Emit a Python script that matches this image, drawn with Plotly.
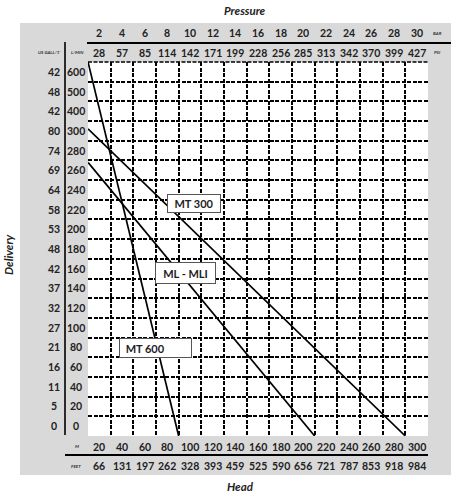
import numpy as np
import plotly.graph_objects as go

# ---- data ----
head_m = [20, 40, 60, 80, 100, 120, 140, 160, 180, 200, 220, 240, 260, 280, 300]
head_ft = [66, 131, 197, 262, 328, 393, 459, 525, 590, 656, 721, 787, 853, 918, 984]
pressure_bar = [2, 4, 6, 8, 10, 12, 14, 16, 18, 20, 22, 24, 26, 28, 30]
pressure_psi = [28, 57, 85, 114, 142, 171, 199, 228, 256, 285, 313, 342, 370, 399, 427]
flow_lpm = [0, 20, 40, 60, 80, 100, 120, 140, 160, 180, 200, 220, 240, 260, 280, 300, 400, 500, 600]
flow_usg = [0, 5, 11, 16, 21, 27, 32, 37, 42, 48, 53, 58, 64, 69, 74, 80, 42, 48, 42]

curve_names = ["MT 600", "ML - MLI", "MT 300"]
curve_head = [[10, 90], [10, 210], [10, 290]]
curve_flow = [[650, -10], [268, -10], [310, -10]]

# flow axis is a row scale (labels centred in rows)
row_vals = [-10] + flow_lpm + [650]
row_pos = [0] + [i + 0.5 for i in range(len(flow_lpm))] + [len(flow_lpm)]


def frow(v):
    return np.interp(v, row_vals, row_pos)


FONT = "Lato"
W, H = 472, 500
L, R, T, B = 88, 428, 62, 436
pw, ph = R - L, B - T


def px(x):
    return (x - L) / pw


def py(y):
    return (B - y) / ph


fig = go.Figure()
for name, hx, fy in zip(curve_names, curve_head, curve_flow):
    fig.add_trace(go.Scatter(x=hx, y=frow(np.array(fy)), mode="lines", name=name,
                             line=dict(color="black", width=1.7), showlegend=False,
                             hoverinfo="skip"))

grid_x = [(a + b) / 2 for a, b in zip(head_m[:-1], head_m[1:])]
grid_y = list(range(1, len(flow_lpm)))

shapes = []
# grey panel + white plot area
shapes.append(dict(type="rect", xref="paper", yref="paper", x0=px(20), x1=px(451),
                   y0=py(475), y1=py(23), fillcolor="#d9d9d9", line=dict(width=0), layer="below"))
shapes.append(dict(type="rect", xref="paper", yref="paper", x0=0, x1=1, y0=0, y1=1,
                   fillcolor="white", line=dict(width=0), layer="below"))
# top border dashed
shapes.append(dict(type="line", xref="paper", yref="paper", x0=0, x1=1, y0=1, y1=1,
                   line=dict(color="black", width=1.6, dash="4px,1.5px")))
# header rule lines
shapes.append(dict(type="line", xref="paper", yref="paper", x0=px(87), x1=px(451), y0=py(43), y1=py(43),
                   line=dict(color="black", width=1.8)))
shapes.append(dict(type="line", xref="paper", yref="paper", x0=px(65), x1=px(428), y0=py(455), y1=py(455),
                   line=dict(color="black", width=1.8)))
shapes.append(dict(type="line", xref="paper", yref="paper", x0=px(65), x1=px(65), y0=py(42), y1=py(435),
                   line=dict(color="black", width=1.6)))

C = dict(showarrow=False, xanchor="center", yanchor="middle")
ann = []
bold = dict(family=FONT, size=10.5, color="#222")
for hm, ft, bar, psi in zip(head_m, head_ft, pressure_bar, pressure_psi):
    ann.append(dict(x=hm, y=py(447), xref="x", yref="paper", text=f"<b>{hm}</b>", font=bold, **C))
    ann.append(dict(x=hm, y=py(466), xref="x", yref="paper", text=f"<b>{ft}</b>", font=bold, **C))
    ann.append(dict(x=hm, y=py(33), xref="x", yref="paper", text=f"<b>{bar}</b>", font=bold, **C))
    ann.append(dict(x=hm, y=py(53), xref="x", yref="paper", text=f"<b>{psi}</b>", font=bold, **C))
for i, (lp, us) in enumerate(zip(flow_lpm, flow_usg)):
    ann.append(dict(x=px(76), y=i + 0.5, xref="paper", yref="y", text=f"<b>{lp}</b>", font=bold, **C))
    ann.append(dict(x=px(54), y=i + 0.5, xref="paper", yref="y", text=f"<b>{us}</b>", font=bold, **C))

tiny = dict(family=FONT, size=4.5, color="#333")
ann += [
    dict(x=px(438), y=py(34), xref="paper", yref="paper", text="<b><i>BAR</i></b>", font=tiny, **C),
    dict(x=px(438), y=py(53), xref="paper", yref="paper", text="<b><i>PSI</i></b>", font=tiny, **C),
    dict(x=px(77), y=py(447), xref="paper", yref="paper", text="<b><i>M</i></b>", font=tiny, **C),
    dict(x=px(76), y=py(466), xref="paper", yref="paper", text="<b><i>FEET</i></b>", font=tiny, **C),
    dict(x=px(49), y=py(53), xref="paper", yref="paper", text="<b><i>US GALL/1'</i></b>", font=tiny, **C),
    dict(x=px(77), y=py(53), xref="paper", yref="paper", text="<b><i>L/MIN</i></b>", font=tiny, **C),
]
title_font = dict(family=FONT, size=11.5, color="#222")
ann += [
    dict(x=px(245), y=py(11), xref="paper", yref="paper", text="<b><i>Pressure</i></b>", font=title_font, **C),
    dict(x=px(240), y=py(487), xref="paper", yref="paper", text="<b><i>Head</i></b>", font=title_font, **C),
    dict(x=px(8), y=py(255), xref="paper", yref="paper", text="<b><i>Delivery</i></b>",
         font=title_font, textangle=-90, **C),
]
# curve label boxes
boxes = {"MT 300": (167, 194, 221, 213, "center", ""),
         "ML - MLI": (155, 262, 216, 284, "center", ""),
         "MT 600": (119, 338, 192, 358, "left", "&nbsp;&nbsp;")}
for name in curve_names:
    x0, y0, x1, y1, al, pad = boxes[name]
    ann.append(dict(x=px((x0 + x1) / 2), y=py((y0 + y1) / 2), xref="paper", yref="paper",
                    text=f"{pad}<b>{name}</b>", font=dict(family=FONT, size=11, color="#222"),
                    width=x1 - x0 - 2, height=y1 - y0 - 2, align=al, bgcolor="white",
                    bordercolor="#555", borderwidth=1, borderpad=0, **C))

fig.update_layout(
    width=W, height=H,
    margin=dict(l=L, r=W - R, t=T, b=H - B),
    paper_bgcolor="white", plot_bgcolor="white",
    xaxis=dict(range=[10, 310], tickvals=grid_x, showticklabels=False, ticks="",
               showgrid=True, gridcolor="black", gridwidth=1.6, griddash="4px,1.5px",
               zeroline=False, showline=False),
    yaxis=dict(range=[0, len(flow_lpm)], tickvals=grid_y, showticklabels=False, ticks="",
               showgrid=True, gridcolor="black", gridwidth=1.6, griddash="4px,1.5px",
               zeroline=False, showline=False),
    shapes=shapes, annotations=ann,
)

fig.write_html("out.html", config={"displayModeBar": False},
               post_script="document.body.style.margin='0px';")
